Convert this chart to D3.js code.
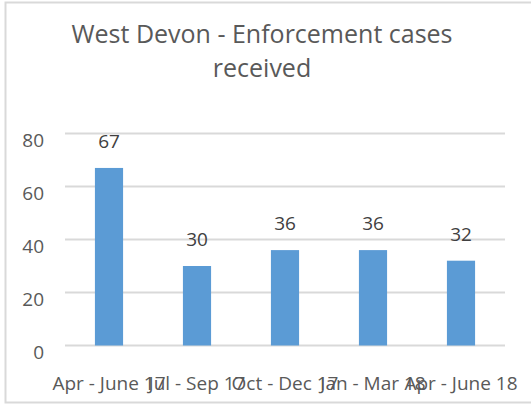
<!DOCTYPE html>
<html><head><meta charset="utf-8">
<script src="https://cdn.jsdelivr.net/npm/d3@7"></script>
<style>body{margin:0;background:#fff}svg{display:block}</style>
</head><body><svg id="c" width="531" height="407"></svg>
<script>
const categories = ["Apr - June 17", "Jul - Sep 17", "Oct - Dec 17", "Jan - Mar 18", "Apr - June 18"];
const values = [67, 30, 36, 36, 32];
const yTicks = [0, 20, 40, 60, 80];
const titleLines = ["West Devon - Enforcement cases", "received"];

const svg = d3.select("#c");
const font = "'Open Sans', sans-serif";
svg.append("rect").attr("x", 5.5).attr("y", 2.5).attr("width", 540).attr("height", 400)
  .attr("fill", "#fff").attr("stroke", "#d9d9d9").attr("stroke-width", 2);

const x = d3.scaleBand().domain(categories).range([65, 505]).paddingInner(0.68).paddingOuter(0.34);
const y = d3.scaleLinear().domain([0, 80]).range([345.5, 133.5]);

svg.append("g").selectAll("line").data(yTicks).join("line")
  .attr("x1", 65).attr("x2", 505).attr("y1", d => y(d)).attr("y2", d => y(d))
  .attr("stroke", "#d9d9d9").attr("stroke-width", 2);

const yAxis = svg.append("g").attr("transform", "translate(44,0)")
  .call(d3.axisLeft(y).tickValues(yTicks).tickSize(0).tickPadding(0));
yAxis.select(".domain").remove();
yAxis.selectAll("text").attr("font-family", font).attr("font-size", 19).attr("fill", "#595959")
  .attr("text-anchor", "end").attr("dy", null).attr("y", 12.5);

svg.append("g").selectAll("rect").data(values).join("rect")
  .attr("x", (d, i) => x(categories[i])).attr("width", x.bandwidth())
  .attr("y", d => y(d)).attr("height", d => y(0) - y(d)).attr("fill", "#5b9bd5");

svg.append("g").selectAll("text").data(values).join("text")
  .attr("x", (d, i) => x(categories[i]) + x.bandwidth() / 2).attr("y", d => y(d) - 20)
  .attr("text-anchor", "middle").attr("font-family", font).attr("font-size", 19).attr("fill", "#404040").text(d => d);

const xAxis = svg.append("g").attr("transform", "translate(0,345.5)")
  .call(d3.axisBottom(x).tickSize(0).tickPadding(0));
xAxis.select(".domain").remove();
xAxis.selectAll("text").attr("font-family", font).attr("font-size", 19).attr("fill", "#595959")
  .attr("dy", null).attr("y", 44.5);

svg.append("g").selectAll("text").data(titleLines).join("text")
  .attr("x", 262).attr("y", (d, i) => 43 + i * 34).attr("text-anchor", "middle")
  .attr("font-family", font).attr("font-size", 25).attr("fill", "#595959").text(d => d);
</script></body></html>
